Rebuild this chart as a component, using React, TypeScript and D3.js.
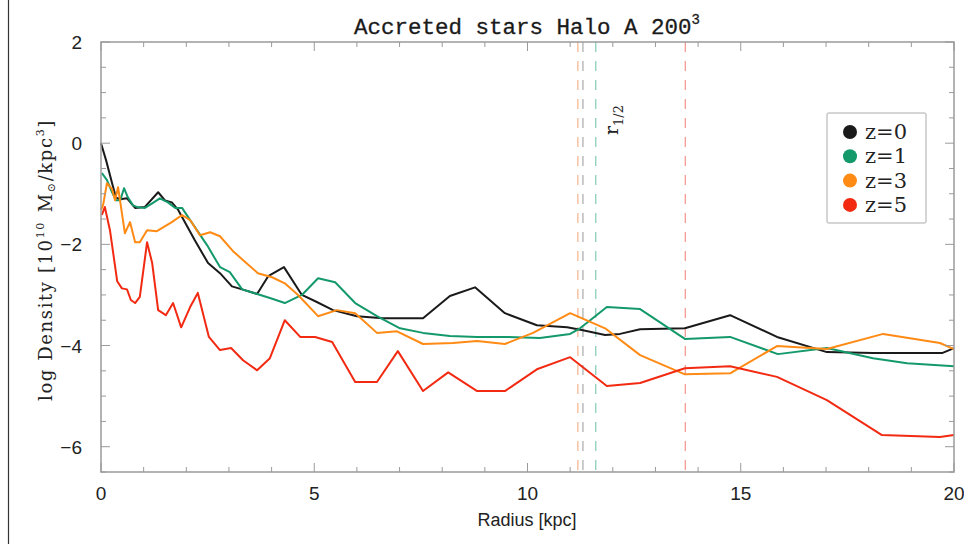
import React from "react";
import * as d3 from "d3";

// Radial density profiles of accreted stars, log10 density vs radius (kpc)
const radiusZ0 = [0, 0.12, 0.26, 0.35, 0.45, 0.61, 0.8, 1.03, 1.34, 1.5, 1.66, 1.81, 2.2, 2.51, 2.79, 3.07, 3.31, 3.66, 3.92, 4.29, 4.71, 5.06, 5.44, 6.0, 6.61, 7.55, 8.18, 8.77, 9.47, 10.22, 10.93, 11.3, 11.82, 12.17, 12.64, 13.69, 14.75, 15.85, 17.02, 18.1, 19.72, 20.0];
const densityZ0 = [0, -0.34, -0.79, -1.07, -1.11, -1.09, -1.28, -1.26, -0.97, -1.13, -1.17, -1.32, -1.92, -2.37, -2.57, -2.83, -2.89, -2.98, -2.63, -2.45, -3.0, -3.14, -3.3, -3.42, -3.46, -3.46, -3.02, -2.85, -3.36, -3.6, -3.64, -3.7, -3.79, -3.77, -3.68, -3.66, -3.4, -3.83, -4.13, -4.15, -4.15, -4.05];

const radiusZ1 = [0.02, 0.14, 0.26, 0.35, 0.45, 0.54, 0.63, 0.75, 0.84, 1.03, 1.2, 1.38, 1.57, 1.74, 1.9, 2.09, 2.49, 2.79, 3.02, 3.31, 3.66, 3.96, 4.31, 4.71, 5.09, 5.49, 5.96, 6.47, 7.01, 7.55, 8.18, 8.82, 9.52, 10.29, 11.0, 11.23, 11.47, 11.86, 12.64, 13.69, 14.75, 15.87, 17.02, 18.1, 18.9, 20.0];
const densityZ1 = [-0.59, -0.73, -0.97, -1.13, -1.13, -0.89, -1.07, -1.23, -1.26, -1.28, -1.19, -1.09, -1.17, -1.28, -1.28, -1.52, -2.02, -2.45, -2.55, -2.89, -2.98, -3.06, -3.16, -3.0, -2.67, -2.75, -3.16, -3.42, -3.66, -3.75, -3.81, -3.83, -3.83, -3.85, -3.77, -3.66, -3.5, -3.24, -3.28, -3.87, -3.83, -4.17, -4.05, -4.25, -4.35, -4.41];

const radiusZ3 = [0, 0.05, 0.14, 0.26, 0.33, 0.4, 0.56, 0.68, 0.8, 0.91, 1.08, 1.31, 1.66, 1.9, 2.09, 2.32, 2.56, 2.79, 3.09, 3.38, 3.68, 4.01, 4.31, 4.62, 5.09, 5.53, 5.96, 6.47, 6.94, 7.55, 8.25, 8.82, 9.47, 10.13, 11.0, 11.82, 12.64, 13.69, 14.75, 15.85, 17.02, 18.34, 19.67, 20.0];
const densityZ3 = [-1.32, -1.22, -0.79, -0.91, -1.13, -0.87, -1.78, -1.56, -1.96, -1.96, -1.72, -1.74, -1.56, -1.42, -1.52, -1.82, -1.76, -1.84, -2.13, -2.35, -2.57, -2.65, -2.77, -3.0, -3.42, -3.3, -3.36, -3.75, -3.72, -3.97, -3.95, -3.91, -3.97, -3.75, -3.36, -3.66, -4.19, -4.57, -4.55, -4.01, -4.07, -3.77, -3.95, -4.07];

const radiusZ5 = [0.02, 0.09, 0.21, 0.38, 0.49, 0.61, 0.7, 0.8, 0.91, 1.08, 1.2, 1.34, 1.52, 1.69, 1.88, 2.09, 2.27, 2.53, 2.79, 3.05, 3.33, 3.66, 3.96, 4.31, 4.67, 5.02, 5.42, 5.96, 6.47, 6.96, 7.55, 8.14, 8.82, 9.47, 10.22, 11.0, 11.86, 12.64, 13.69, 14.75, 15.85, 17.02, 18.31, 19.67, 20.0];
const densityZ5 = [-1.42, -1.26, -1.72, -2.73, -2.87, -2.89, -3.1, -3.16, -3.04, -1.96, -2.37, -3.3, -3.4, -3.16, -3.64, -3.24, -2.96, -3.83, -4.09, -4.05, -4.29, -4.49, -4.25, -3.5, -3.83, -3.83, -3.93, -4.72, -4.72, -4.11, -4.9, -4.53, -4.9, -4.9, -4.47, -4.23, -4.8, -4.74, -4.45, -4.41, -4.62, -5.08, -5.77, -5.81, -5.77];

// Half-mass radii (kpc) per redshift
const halfMassRadius = [11.3, 11.6, 11.18, 13.7];

const seriesLabels = ["z=0", "z=1", "z=3", "z=5"];
const lineColors = ["#1a1a1a", "#14996a", "#ff8a14", "#f22a12"];
const dashColors = ["#b0b0b0", "#8ccfb6", "#f7b994", "#f39a92"];

const xTicks = [0, 5, 10, 15, 20];
const yTicks = [2, 0, -2, -4, -6];

const W = 964;
const H = 544;
const left = 101;
const right = 954;
const top = 42;
const bottom = 472;

export default function App() {
  const x = d3.scaleLinear().domain([0, 20]).range([left, right]);
  const y = d3.scaleLinear().domain([-6.5, 2]).range([bottom, top]);

  const radii = [radiusZ0, radiusZ1, radiusZ3, radiusZ5];
  const dens = [densityZ0, densityZ1, densityZ3, densityZ5];
  const line = d3
    .line<[number, number]>()
    .x((d) => x(d[0]))
    .y((d) => y(d[1]));

  const frameColor = "#9a9a9a";
  const xMinor = d3.range(0, 20.001, 1);
  const yMinor = d3.range(-6.5, 2.001, 0.5);

  const tickFont = "Liberation Sans, Arial, sans-serif";
  const serif = "DejaVu Serif, serif";

  return (
    <svg
      width={W}
      height={H}
      style={{ position: "absolute", left: 0, top: 0, background: "#fff" }}
    >
      <rect x={0} y={0} width={W} height={H} fill="#fff" />
      <line x1={8.5} x2={8.5} y1={0} y2={H} stroke="#333" strokeWidth={1.2} />

      {/* title */}
      <text
        x={527}
        y={34}
        textAnchor="middle"
        fontFamily="Liberation Mono, monospace"
        fontSize={22.5}
        fill="#1a1a1a"
        stroke="#1a1a1a"
        strokeWidth={0.3}
      >
        Accreted stars Halo A 200
        <tspan fontSize={14} dy={-10}>
          3
        </tspan>
      </text>

      {/* half-mass radius markers */}
      {halfMassRadius.map((r, i) => (
        <line
          key={"hm" + i}
          x1={x(r)}
          x2={x(r)}
          y1={top}
          y2={bottom}
          stroke={dashColors[i]}
          strokeWidth={1.3}
          strokeDasharray="10,9"
        />
      ))}
      <text
        transform={`translate(618,135) rotate(-90)`}
        fontFamily={serif}
        fontSize={19}
        fill="#222"
      >
        r
        <tspan fontSize={13} dy={5}>
          1/2
        </tspan>
      </text>

      {/* profiles */}
      {radii.map((rs, i) => (
        <path
          key={"s" + i}
          d={line(rs.map((r, j) => [r, dens[i][j]]) as [number, number][]) || ""}
          fill="none"
          stroke={lineColors[i]}
          strokeWidth={2}
          strokeLinejoin="round"
        />
      ))}

      {/* frame */}
      <rect
        x={left}
        y={top}
        width={right - left}
        height={bottom - top}
        fill="none"
        stroke={frameColor}
        strokeWidth={1.5}
      />
      {xMinor.map((v) => {
        const major = xTicks.includes(v);
        const len = major ? 9 : 5;
        return (
          <g key={"xt" + v}>
            <line x1={x(v)} x2={x(v)} y1={bottom} y2={bottom - len} stroke={frameColor} />
            <line x1={x(v)} x2={x(v)} y1={top} y2={top + len} stroke={frameColor} />
          </g>
        );
      })}
      {yMinor.map((v) => {
        const major = yTicks.includes(v);
        const len = major ? 9 : 5;
        return (
          <g key={"yt" + v}>
            <line x1={left} x2={left + len} y1={y(v)} y2={y(v)} stroke={frameColor} />
            <line x1={right} x2={right - len} y1={y(v)} y2={y(v)} stroke={frameColor} />
          </g>
        );
      })}

      {/* tick labels */}
      {xTicks.map((v) => (
        <text
          key={"xl" + v}
          x={x(v)}
          y={500}
          textAnchor="middle"
          fontFamily={tickFont}
          fontSize={19}
          fill="#222"
        >
          {v}
        </text>
      ))}
      {yTicks.map((v) => (
        <text
          key={"yl" + v}
          x={82}
          y={y(v) + 7}
          textAnchor="end"
          fontFamily={tickFont}
          fontSize={19}
          fill="#222"
        >
          {v < 0 ? "\u2212" + Math.abs(v) : v}
        </text>
      ))}

      {/* axis titles */}
      <text
        x={527}
        y={526}
        textAnchor="middle"
        fontFamily={tickFont}
        fontSize={18}
        fill="#222"
      >
        Radius [kpc]
      </text>
      <text
        transform={`translate(52,260) rotate(-90)`}
        textAnchor="middle"
        fontFamily={serif}
        fontSize={18}
        letterSpacing={1.6}
        fill="#222"
      >
        log Density [10
        <tspan fontSize={11} dy={-8}>
          10
        </tspan>
        <tspan dy={8} dx={9}>
          M
        </tspan>
        <tspan fontSize={11} dy={3}>
          ⊙
        </tspan>
        <tspan dy={-3}>/kpc</tspan>
        <tspan fontSize={11} dy={-8}>
          3
        </tspan>
        <tspan dy={8}>]</tspan>
      </text>

      {/* legend */}
      <rect
        x={827}
        y={113}
        width={99}
        height={110}
        rx={2}
        fill="#fff"
        stroke="#c8c8c8"
        strokeWidth={1.5}
      />
      {seriesLabels.map((lab, i) => (
        <g key={"lg" + i}>
          <circle cx={850} cy={132 + i * 24.3} r={7} fill={lineColors[i]} />
          <text
            x={865}
            y={132 + i * 24.3 + 7}
            fontFamily={serif}
            fontSize={21}
            fill="#222"
          >
            {lab}
          </text>
        </g>
      ))}
    </svg>
  );
}
